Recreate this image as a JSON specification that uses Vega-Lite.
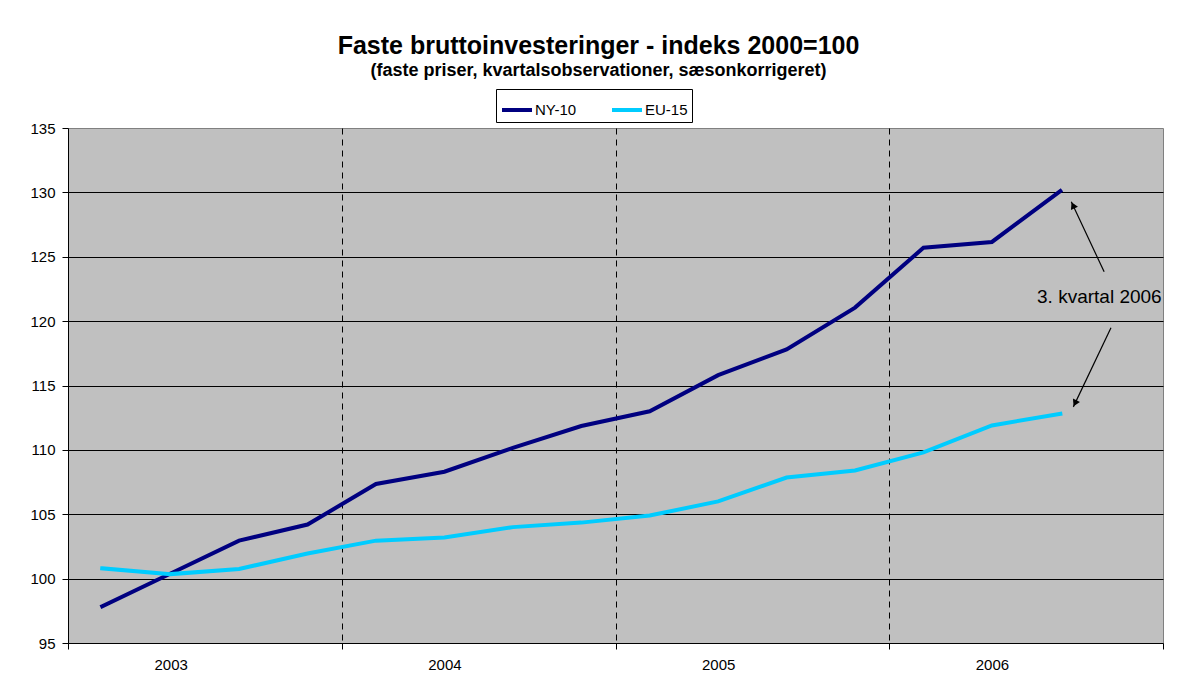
{
  "$schema": "https://vega.github.io/schema/vega-lite/v6.json",
  "autosize": "none",
  "width": 1095,
  "height": 515,
  "padding": {"left": 68, "top": 128, "right": 34, "bottom": 50},
  "background": "white",
  "config": {
    "font": "Liberation Sans",
    "view": {"fill": "#C0C0C0", "stroke": "#808080", "strokeWidth": 1}
  },
  "title": {
    "text": "Faste bruttoinvesteringer - indeks 2000=100",
    "subtitle": "(faste priser, kvartalsobservationer, sæsonkorrigeret)",
    "font": "Liberation Sans",
    "fontSize": 25,
    "fontWeight": "bold",
    "color": "black",
    "subtitleFont": "Liberation Sans",
    "subtitleFontSize": 18,
    "subtitleFontWeight": "bold",
    "subtitleColor": "black",
    "subtitlePadding": 3,
    "anchor": "middle",
    "dx": -17,
    "offset": 9
  },
  "datasets": {
    "series": [
      {"t": 0.5, "serie": "NY-10", "indeks": 97.85},
      {"t": 1.5, "serie": "NY-10", "indeks": 100.4},
      {"t": 2.5, "serie": "NY-10", "indeks": 102.95},
      {"t": 3.5, "serie": "NY-10", "indeks": 104.2},
      {"t": 4.5, "serie": "NY-10", "indeks": 107.35},
      {"t": 5.5, "serie": "NY-10", "indeks": 108.3},
      {"t": 6.5, "serie": "NY-10", "indeks": 110.15},
      {"t": 7.5, "serie": "NY-10", "indeks": 111.85},
      {"t": 8.5, "serie": "NY-10", "indeks": 113.0},
      {"t": 9.5, "serie": "NY-10", "indeks": 115.8},
      {"t": 10.5, "serie": "NY-10", "indeks": 117.8},
      {"t": 11.5, "serie": "NY-10", "indeks": 121.05},
      {"t": 12.5, "serie": "NY-10", "indeks": 125.7},
      {"t": 13.5, "serie": "NY-10", "indeks": 126.15},
      {"t": 14.5, "serie": "NY-10", "indeks": 130.1},
      {"t": 0.5, "serie": "EU-15", "indeks": 100.8},
      {"t": 1.5, "serie": "EU-15", "indeks": 100.35},
      {"t": 2.5, "serie": "EU-15", "indeks": 100.75},
      {"t": 3.5, "serie": "EU-15", "indeks": 101.95},
      {"t": 4.5, "serie": "EU-15", "indeks": 102.95},
      {"t": 5.5, "serie": "EU-15", "indeks": 103.2},
      {"t": 6.5, "serie": "EU-15", "indeks": 104.0},
      {"t": 7.5, "serie": "EU-15", "indeks": 104.35},
      {"t": 8.5, "serie": "EU-15", "indeks": 104.9},
      {"t": 9.5, "serie": "EU-15", "indeks": 106.0},
      {"t": 10.5, "serie": "EU-15", "indeks": 107.85},
      {"t": 11.5, "serie": "EU-15", "indeks": 108.4},
      {"t": 12.5, "serie": "EU-15", "indeks": 109.8},
      {"t": 13.5, "serie": "EU-15", "indeks": 111.9},
      {"t": 14.5, "serie": "EU-15", "indeks": 112.8}
    ],
    "arrows": [
      {"t1": 15.14, "v1": 123.83, "t2": 14.66, "v2": 129.27, "th": 14.685, "vh": 128.99, "ang": 334.8},
      {"t1": 15.24, "v1": 119.48, "t2": 14.69, "v2": 113.34, "th": 14.714, "vh": 113.62, "ang": 205.7}
    ],
    "note": [
      {"t": 15.07, "v": 121.88, "label": "3. kvartal 2006"}
    ]
  },
  "layer": [
    {
      "data": {"name": "series"},
      "mark": {"type": "line", "strokeWidth": 4, "strokeJoin": "miter", "strokeCap": "square"},
      "encoding": {
        "x": {
          "field": "t",
          "type": "quantitative",
          "scale": {"domain": [0, 16], "nice": false, "zero": false},
          "axis": {
            "title": null,
            "values": [0, 4, 8, 12, 16],
            "labelExpr": "datum.value >= 16 ? '' : toString(2003 + datum.value / 4)",
            "labelOffset": 102.7,
            "labelFontSize": 15,
            "labelColor": "black",
            "labelPadding": 8,
            "labelOverlap": false,
            "labelFlush": false,
            "labelBound": false,
            "tickSize": 6,
            "tickColor": "black",
            "domainColor": "black",
            "grid": true,
            "gridColor": "black",
            "gridDash": [6, 5],
            "gridOpacity": {"condition": {"test": "datum.value == 0 || datum.value == 16", "value": 0}, "value": 1}
          }
        },
        "y": {
          "field": "indeks",
          "type": "quantitative",
          "scale": {"domain": [95, 135], "nice": false, "zero": false},
          "axis": {
            "title": null,
            "values": [95, 100, 105, 110, 115, 120, 125, 130, 135],
            "labelFontSize": 15,
            "labelColor": "black",
            "labelPadding": 7,
            "tickSize": 6,
            "tickColor": "black",
            "domainColor": "black",
            "grid": true,
            "gridColor": "black",
            "gridOpacity": {"condition": {"test": "datum.value == 135 || datum.value == 95", "value": 0}, "value": 1}
          }
        },
        "color": {
          "field": "serie",
          "type": "nominal",
          "scale": {"domain": ["NY-10", "EU-15"], "range": ["#000080", "#00CCFF"]},
          "legend": {
            "title": null,
            "orient": "none",
            "legendX": 428,
            "legendY": -39,
            "direction": "horizontal",
            "symbolType": "stroke",
            "symbolSize": 900,
            "symbolStrokeWidth": 4,
            "labelFontSize": 15,
            "labelColor": "black",
            "labelOffset": 1,
            "columnPadding": 27,
            "strokeColor": "black",
            "fillColor": "white",
            "padding": 4
          }
        }
      }
    },
    {
      "data": {"name": "arrows"},
      "mark": {"type": "rule", "color": "black", "strokeWidth": 1.2},
      "encoding": {
        "x": {"field": "t1", "type": "quantitative"},
        "y": {"field": "v1", "type": "quantitative"},
        "x2": {"field": "t2"},
        "y2": {"field": "v2"}
      }
    },
    {
      "data": {"name": "arrows"},
      "mark": {"type": "point", "shape": "triangle-up", "filled": true, "color": "black", "size": 60, "opacity": 1},
      "encoding": {
        "x": {"field": "th", "type": "quantitative"},
        "y": {"field": "vh", "type": "quantitative"},
        "angle": {"field": "ang", "type": "quantitative", "scale": null}
      }
    },
    {
      "data": {"name": "note"},
      "mark": {"type": "text", "fontSize": 19, "color": "black", "align": "center", "baseline": "middle"},
      "encoding": {
        "x": {"field": "t", "type": "quantitative"},
        "y": {"field": "v", "type": "quantitative"},
        "text": {"field": "label"}
      }
    }
  ]
}
